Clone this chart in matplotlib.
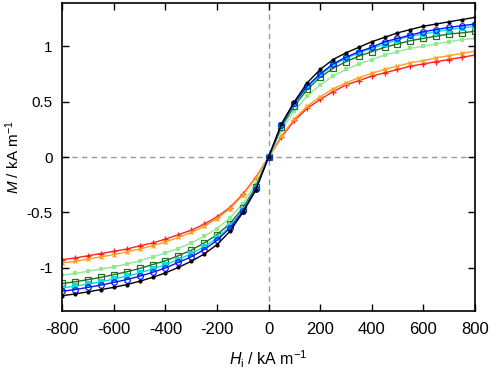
import matplotlib
matplotlib.use("Agg")
import matplotlib.pyplot as plt

plt.rcParams['font.family'] = ['Liberation Sans', 'DejaVu Sans']
plt.rcParams['mathtext.fontset'] = 'custom'
plt.rcParams['mathtext.rm'] = 'Liberation Sans'
plt.rcParams['mathtext.it'] = 'Liberation Sans:italic'
plt.rcParams['axes.unicode_minus'] = False

# field H_i in kA/m
H = [-800, -750, -700, -650, -600, -550, -500, -450, -400, -350, -300, -250, -200, -150, -100, -50,
     0, 50, 100, 150, 200, 250, 300, 350, 400, 450, 500, 550, 600, 650, 700, 750, 800]

# magnetisation M in kA/m
m_black = [-1.25, -1.235, -1.215, -1.195, -1.175, -1.15, -1.12, -1.085, -1.045, -0.995, -0.94, -0.875, -0.79, -0.67, -0.50, -0.30,
           0.0, 0.30, 0.50, 0.67, 0.79, 0.88, 0.94, 0.99, 1.04, 1.08, 1.12, 1.15, 1.18, 1.20, 1.22, 1.24, 1.26]
m_blue = [-1.21, -1.195, -1.175, -1.155, -1.13, -1.105, -1.075, -1.04, -1.0, -0.95, -0.90, -0.835, -0.75, -0.64, -0.49, -0.29,
          0.0, 0.29, 0.49, 0.64, 0.75, 0.84, 0.90, 0.95, 0.99, 1.04, 1.07, 1.10, 1.13, 1.15, 1.17, 1.185, 1.20]
m_cyan = [-1.18, -1.165, -1.145, -1.125, -1.10, -1.075, -1.045, -1.01, -0.97, -0.925, -0.87, -0.81, -0.73, -0.625, -0.48, -0.285,
          0.0, 0.285, 0.48, 0.63, 0.74, 0.83, 0.89, 0.94, 0.98, 1.02, 1.06, 1.09, 1.11, 1.13, 1.15, 1.165, 1.18]
m_dkgreen = [-1.14, -1.125, -1.105, -1.085, -1.06, -1.035, -1.005, -0.97, -0.935, -0.89, -0.84, -0.775, -0.70, -0.60, -0.46, -0.27,
             0.0, 0.27, 0.46, 0.61, 0.72, 0.80, 0.86, 0.91, 0.95, 0.99, 1.02, 1.05, 1.07, 1.09, 1.11, 1.12, 1.135]
m_ltgreen = [-1.065, -1.05, -1.03, -1.01, -0.99, -0.965, -0.935, -0.90, -0.865, -0.825, -0.775, -0.715, -0.645, -0.55, -0.42, -0.24,
             0.0, 0.24, 0.42, 0.55, 0.65, 0.73, 0.79, 0.84, 0.88, 0.92, 0.95, 0.98, 1.00, 1.02, 1.04, 1.06, 1.07]
m_orange = [-0.955, -0.94, -0.92, -0.90, -0.88, -0.855, -0.83, -0.80, -0.765, -0.725, -0.68, -0.625, -0.555, -0.465, -0.345, -0.19,
            0.0, 0.19, 0.345, 0.46, 0.545, 0.615, 0.67, 0.715, 0.755, 0.79, 0.82, 0.85, 0.87, 0.895, 0.915, 0.935, 0.955]
m_red = [-0.925, -0.91, -0.89, -0.87, -0.85, -0.83, -0.80, -0.775, -0.74, -0.70, -0.66, -0.605, -0.54, -0.455, -0.335, -0.185,
         0.0, 0.18, 0.33, 0.44, 0.52, 0.59, 0.65, 0.69, 0.73, 0.76, 0.79, 0.82, 0.84, 0.86, 0.88, 0.90, 0.92]

fig = plt.figure(figsize=(4.91, 3.70), dpi=100)
ax = fig.add_axes([0.127, 0.159, 0.840, 0.833])

ax.axhline(0, color='#999999', ls=(0, (4, 3)), lw=1, zorder=1)
ax.axvline(0, color='#999999', ls=(0, (4, 3)), lw=1, zorder=1)

# red / orange first so the others sit on top
ax.plot(H, m_red, color='#ff2020', lw=1, marker='+', ms=4, mew=1)
ax.plot(H, m_orange, color='#ffa020', lw=1, marker='x', ms=3.5, mew=1)
ax.plot(H, m_ltgreen, color='#90e890', lw=1, marker='s', ms=3, mew=0)
ax.plot(H, m_dkgreen, color='#207020', lw=1, marker='s', ms=3.8, mfc='none', mew=0.9)
ax.plot(H, m_cyan, color='#00e0e0', lw=1, marker='s', ms=3.8, mew=0)
ax.plot(H, m_blue, color='#1010ff', lw=1, marker='o', ms=4, mfc='none', mew=0.9)
ax.plot(H, m_black, color='black', lw=1, marker='o', ms=3, mew=0)

ax.set_xlim(-800, 800)
ax.set_ylim(-1.39, 1.39)
ax.set_xticks([-800, -600, -400, -200, 0, 200, 400, 600, 800])
ax.set_yticks([-1, -0.5, 0, 0.5, 1])
ax.set_yticklabels(['-1', '-0.5', '0', '0.5', '1'])
ax.tick_params(direction='in', length=5, width=1, top=True, right=True)
ax.tick_params(axis='x', pad=8, labelsize=12)
ax.tick_params(axis='y', pad=7, labelsize=11)
for s in ax.spines.values():
    s.set_linewidth(1.2)

ax.set_xlabel(r'$H_\mathrm{i}$ / kA m$^{-1}$', fontsize=11.5, labelpad=8)
ax.set_ylabel(r'$M$ / kA m$^{-1}$', fontsize=11, labelpad=3)

fig.savefig('out.png', dpi=100)
